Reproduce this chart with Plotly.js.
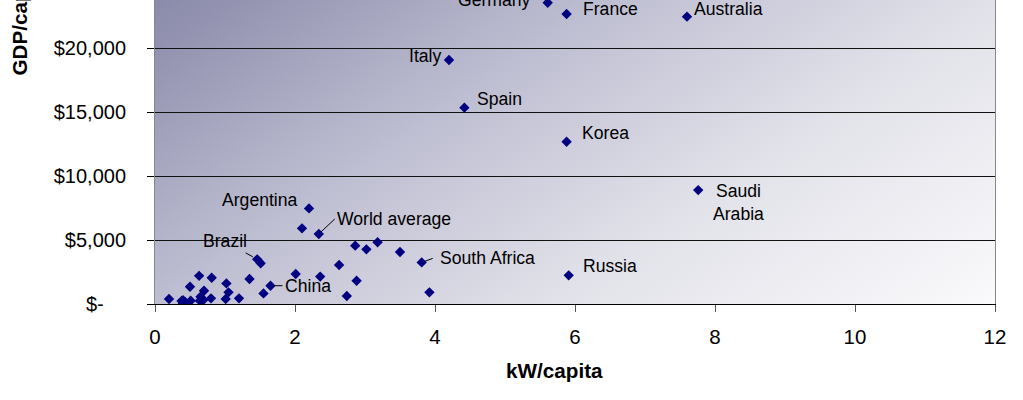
<!DOCTYPE html>
<html><head><meta charset="utf-8">
<script src="https://cdn.plot.ly/plotly-3.0.1.min.js"></script>
<style>html,body{margin:0;padding:0;background:#fff;overflow:hidden}#chart{width:1023px;height:400px}</style>
</head><body><div id="chart"></div>
<script>
// ---- data ----
const labelNames = ['Germany','France','Australia','Italy','Spain','Korea','Saudi<br>Arabia','Argentina','World average','Brazil','China','South Africa','Russia'];
const labelKw    = [5.61, 5.88, 7.60, 4.20, 4.42, 5.88, 7.76, 2.20, 2.34, 1.46, 1.65, 3.81, 5.91];
const labelGdp   = [23540, 22660, 22450, 19060, 15340, 12680, 8900, 7470, 5470, 3490, 1430, 3250, 2240];
const otherKw  = [0.20,0.40,0.38,0.43,0.40,0.51,0.50,0.63,0.81,0.70,0.65,0.68,0.64,0.69,0.80,1.02,1.05,1.01,1.20,1.35,1.51,1.55,2.10,2.86,3.02,3.18,3.50,2.63,2.01,2.36,2.88,2.74,3.92];
const otherGdp = [390,290,230,160,50,260,1350,2200,2050,1040,570,370,260,310,440,1610,910,390,440,1950,3180,830,5910,4560,4270,4820,4060,3050,2340,2140,1820,630,910];
const yTickVals = [0, 5000, 10000, 15000, 20000];
const yTickText = ['$-\u00a0\u00a0\u00a0\u00a0', '$5,000', '$10,000', '$15,000', '$20,000'];
const xTickVals = [0, 2, 4, 6, 8, 10, 12];
const xTickText = ['0', '2', '4', '6', '8', '10', '12'];
const xTitle = 'kW/capita';
const yTitle = 'GDP/capita';

// ---- label placement styles ----
const labelStyle = {
  'Germany':      {xanchor:'right', xshift:-15, yshift:3},
  'France':       {xanchor:'left', xshift:14, yshift:5},
  'Australia':    {xanchor:'left', xshift:5, yshift:8},
  'Italy':        {xanchor:'right', xshift:-6, yshift:4},
  'Spain':        {xanchor:'left', xshift:11, yshift:9},
  'Korea':        {xanchor:'left', xshift:13, yshift:9},
  'Saudi<br>Arabia': {xanchor:'left', xshift:13, yshift:-12},
  'Argentina':    {xanchor:'right', xshift:-9, yshift:8},
  'Russia':       {xanchor:'left', xshift:12, yshift:9},
  'World average':{arrow:true, xanchor:'left', ax:16, ay:-15, standoff:3, pad:1},
  'Brazil':       {arrow:true, xanchor:'center', ax:-32, ay:-18, standoff:5, pad:1},
  'China':        {arrow:true, xanchor:'left', ax:12, ay:0, standoff:3, pad:1},
  'South Africa': {arrow:true, xanchor:'left', ax:11, ay:-4, standoff:3, pad:6}
};

const FONT = '"Liberation Sans", Arial, sans-serif';
const labelFont = {family: FONT, size: 17.6, color: '#000'};

const annotations = labelNames.map((name, i) => {
  const s = labelStyle[name];
  const a = {x: labelKw[i], y: labelGdp[i], xref:'x', yref:'y', text: name, font: labelFont,
             xanchor: s.xanchor, yanchor:'middle'};
  if (s.arrow) {
    Object.assign(a, {showarrow:true, ax:s.ax, ay:s.ay, arrowhead:0, arrowwidth:1, arrowcolor:'#000',
                      standoff:s.standoff, borderpad:s.pad});
  } else {
    Object.assign(a, {showarrow:false, xshift:s.xshift, yshift:s.yshift});
  }
  return a;
});

annotations.push({text:'<b>' + yTitle + '</b>', xref:'paper', yref:'paper', x:-0.1613, y:0.934,
  xanchor:'center', yanchor:'middle', textangle:-90, showarrow:false,
  font:{family:FONT, size:20.7, color:'#000'}});
annotations.push({text:'<b>' + xTitle + '</b>', xref:'paper', yref:'paper', x:0.476, y:-0.219,
  xanchor:'center', yanchor:'middle', showarrow:false,
  font:{family:FONT, size:20.7, color:'#000'}});

const bgSvg = '<svg xmlns="http://www.w3.org/2000/svg" width="840" height="304" viewBox="0 0 840 304" preserveAspectRatio="none">' +
  '<defs><linearGradient id="g" gradientUnits="userSpaceOnUse" x1="0" y1="0" x2="402" y2="598">' +
  '<stop offset="0" stop-color="rgb(138,138,170)"/>' +
  '<stop offset="0.35" stop-color="rgb(190,190,210)"/>' +
  '<stop offset="0.65" stop-color="rgb(225,225,233)"/>' +
  '<stop offset="1" stop-color="rgb(250,250,252)"/>' +
  '</linearGradient></defs><rect x="0" y="0" width="840" height="304" fill="url(#g)"/></svg>';

const trace = {
  type:'scatter', mode:'markers',
  x: labelKw.concat(otherKw), y: labelGdp.concat(otherGdp),
  marker:{symbol:'diamond', size:8, color:'#000080', line:{width:0}},
  hoverinfo:'skip', showlegend:false
};

const layout = {
  width:1023, height:400,
  margin:{l:155, r:28, t:0, b:96, pad:0},
  paper_bgcolor:'#fff', plot_bgcolor:'rgba(0,0,0,0)',
  font:{family:FONT, color:'#000'},
  xaxis:{range:[0,12], tickvals:xTickVals, ticktext:xTickText, ticks:'outside', ticklen:7, tickcolor:'#555',
         showgrid:false, zeroline:false, showline:true, linecolor:'#000', linewidth:1,
         tickfont:{family:FONT, size:20.5, color:'#000'}, ticklabelstandoff:7, fixedrange:true},
  yaxis:{range:[0,23750], tickvals:yTickVals, ticktext:yTickText, ticks:'outside', ticklen:7, tickcolor:'#000',
         showgrid:true, gridcolor:'#111', gridwidth:1, zeroline:false, showline:true, linecolor:'#888', linewidth:1,
         mirror:true, tickfont:{family:FONT, size:20, color:'#000'}, ticklabelstandoff:17, fixedrange:true},
  images:[{source:'data:image/svg+xml;charset=utf-8,' + encodeURIComponent(bgSvg), xref:'paper', yref:'paper',
           x:0, y:1, sizex:1, sizey:1, sizing:'stretch', xanchor:'left', yanchor:'top', layer:'below'}],
  annotations: annotations,
  hovermode:false
};

Plotly.newPlot('chart', [trace], layout, {displayModeBar:false, staticPlot:true});
</script>
</body></html>
